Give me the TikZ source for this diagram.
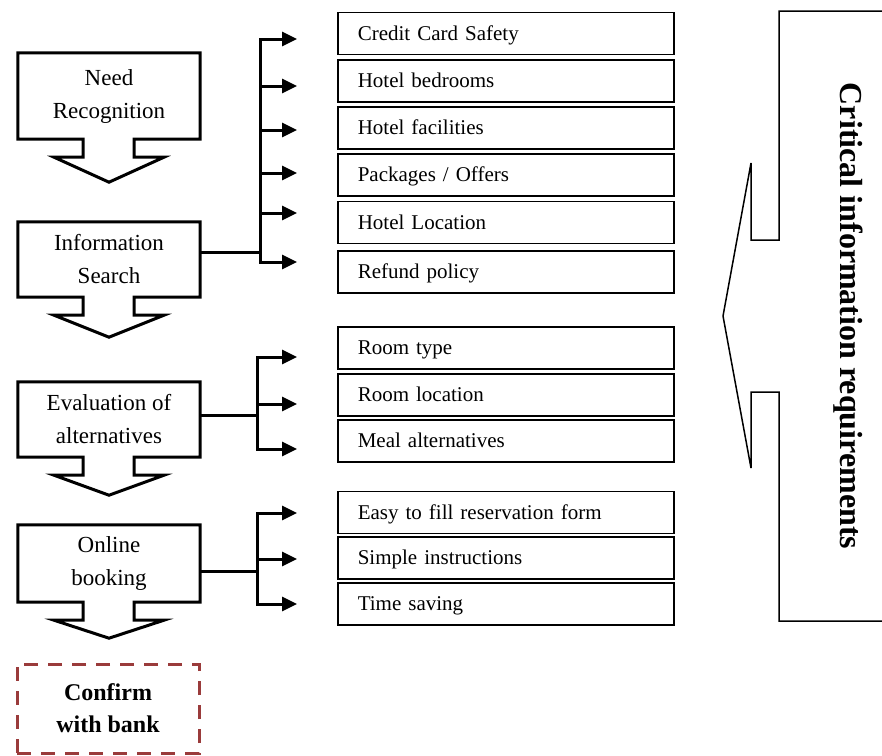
\documentclass[tikz,border=0pt]{standalone}
\usepackage{fontspec}
\setmainfont{Liberation Serif}
\usetikzlibrary{arrows.meta,calc}
\definecolor{confirmred}{RGB}{154,59,59}

% outline of a stage box with its down arrow: node, wing drop, tip drop
\newcommand\stageoutline[3]{%
  \draw[stageline] ($(#1.south)+(25,0)$) -- (#1.south east) -- (#1.north east)
    -- (#1.north west) -- (#1.south west) -- ($(#1.south)+(-26,0)$)
    -- ($(#1.south)+(-26,#2)$) -- ($(#1.south)+(-55,#2)$)
    -- ($(#1.south)+(0,#3)$) -- ($(#1.south)+(55,#2)$)
    -- ($(#1.south)+(25,#2)$) -- cycle;}

\begin{document}
\begin{tikzpicture}[x=1pt,y=-1pt,
  stageline/.style={line width=3pt,line join=miter},
  stagetext/.style={minimum width=182pt,inner sep=0pt,align=center,
    font=\fontsize{23}{33}\selectfont},
  itembox/.style={draw,line width=1.6pt,anchor=west,minimum width=336pt,
    minimum height=42pt,text width=296pt,inner xsep=20pt,inner ysep=0pt,
    text height=17pt,text depth=4pt,align=left,font=\fontsize{21}{25}\selectfont},
  conn/.style={line width=3pt},
  branch/.style={conn,-{Triangle[length=15pt,width=14pt]}},
  confirmbox/.style={draw=confirmred,line width=3pt,dash pattern=on 14pt off 10pt,
    minimum width=182pt,minimum height=89pt,inner sep=0pt,align=center,
    font=\bfseries\fontsize{24}{32}\selectfont},
  ]
\useasboundingbox (0,0) rectangle (882,755);

% decision stages
\node[stagetext,minimum height=86pt] (need) at (109,96) {Need\\Recognition};
\node[stagetext,minimum height=75pt] (info) at (109,259.5) {Information\\Search};
\node[stagetext,minimum height=75pt] (eval) at (109,419.5) {Evaluation of\\alternatives};
\node[stagetext,minimum height=77pt] (book) at (109,563.5) {Online\\booking};
\stageoutline{need}{18}{43}
\stageoutline{info}{18}{40}
\stageoutline{eval}{18}{38}
\stageoutline{book}{18}{36}

\node[confirmbox] (bank) at (108,708.5) {Confirm\\with bank};

% information items
\node[itembox] (cc)   at (337,33.5)  {Credit Card Safety};
\node[itembox] (bed)  at (337,81)    {Hotel bedrooms};
\node[itembox] (fac)  at (337,128)   {Hotel facilities};
\node[itembox] (pack) at (337,175)   {Packages / Offers};
\node[itembox] (loc)  at (337,222.5) {Hotel Location};
\node[itembox] (ref)  at (337,272)   {Refund policy};

\node[itembox] (rtype) at (337,348) {Room type};
\node[itembox] (rloc)  at (337,395) {Room location};
\node[itembox] (meal)  at (337,441) {Meal alternatives};

\node[itembox] (form)  at (337,512.5) {Easy to fill reservation form};
\node[itembox] (instr) at (337,558)   {Simple instructions};
\node[itembox] (time)  at (337,604)   {Time saving};

% branching connectors
\coordinate (j1) at (260,252);
\coordinate (t11) at (297,39);
\coordinate (t12) at (297,86);
\coordinate (t13) at (297,130);
\coordinate (t14) at (297,173);
\coordinate (t15) at (297,213);
\coordinate (t16) at (297,262);
\draw[conn] (info.east |- j1) -- (j1);
\foreach \t in {t11,t12,t13,t14,t15,t16} \draw[branch] (j1) |- (\t);

\coordinate (j2) at (257,415);
\coordinate (t21) at (297,357);
\coordinate (t22) at (297,404);
\coordinate (t23) at (297,449);
\draw[conn] (eval.east |- j2) -- (j2);
\foreach \t in {t21,t22,t23} \draw[branch] (j2) |- (\t);

\coordinate (j3) at (257,571);
\coordinate (t31) at (297,513);
\coordinate (t32) at (297,559);
\coordinate (t33) at (297,604);
\draw[conn] (book.east |- j3) -- (j3);
\foreach \t in {t31,t32,t33} \draw[branch] (j3) |- (\t);

% left-pointing callout
\draw[line width=1.5pt,line join=miter] (890,11) -- (779,11) -- (779,240) -- (751,240)
  -- (751,163) -- (723,316) -- (751,468) -- (751,392) -- (779,392)
  -- (779,621) -- (890,621);
\node[rotate=-90,font=\bfseries\fontsize{32}{36}\selectfont] (crit) at (848,316)
  {Critical information requirements};
\end{tikzpicture}
\end{document}
